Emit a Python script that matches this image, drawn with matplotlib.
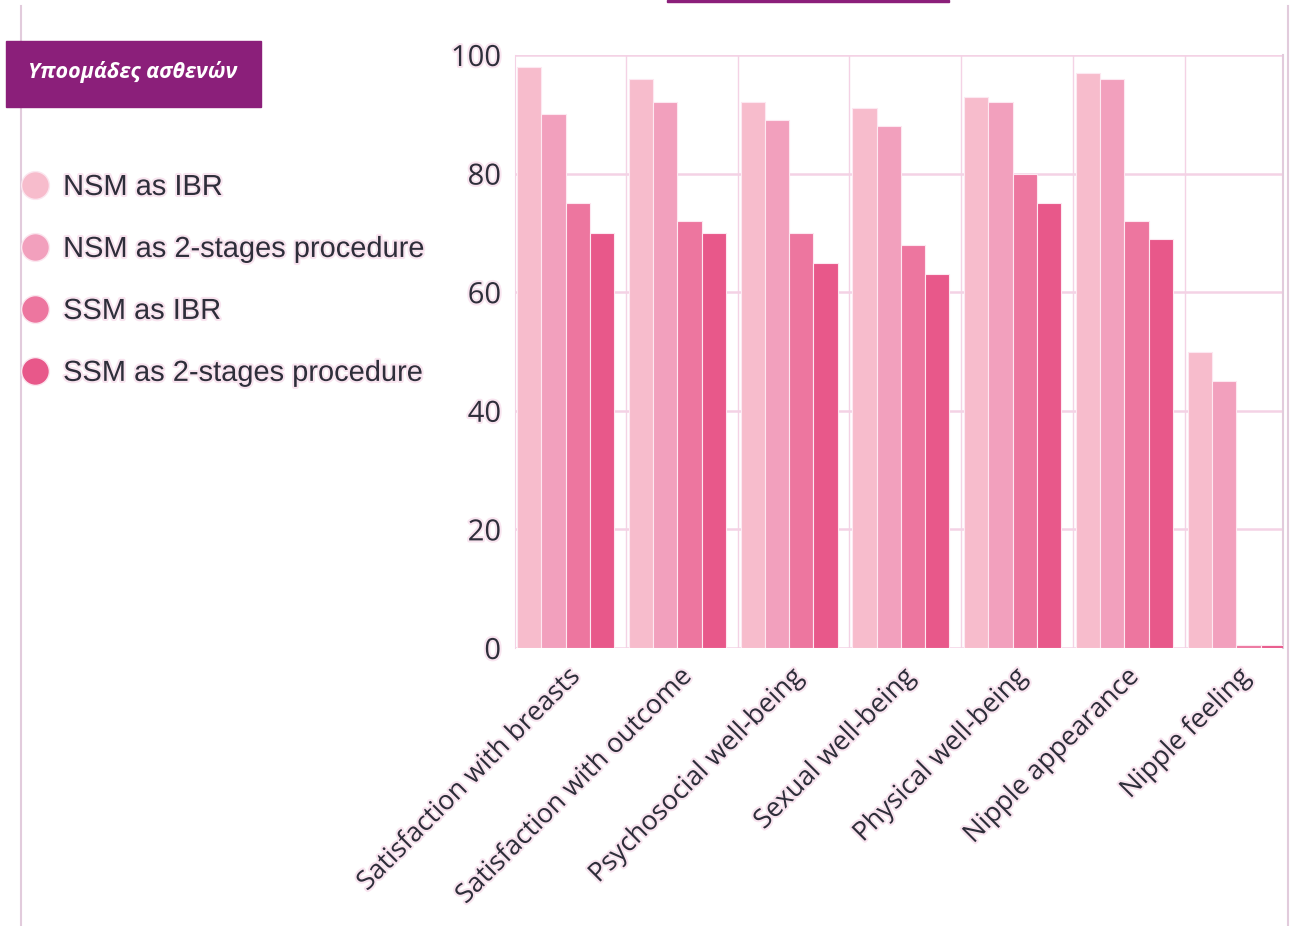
import numpy as np
import matplotlib
matplotlib.use("Agg")
import matplotlib.pyplot as plt
import matplotlib.patheffects as pe
from matplotlib.lines import Line2D
from matplotlib.patches import Rectangle

categories = ["Satisfaction with breasts", "Satisfaction with outcome",
              "Psychosocial well-being", "Sexual well-being",
              "Physical well-being", "Nipple appearance", "Nipple feeling"]
series_names = ["NSM as IBR", "NSM as 2-stages procedure",
                "SSM as IBR", "SSM as 2-stages procedure"]
nsm_ibr = [98, 96, 92, 91, 93, 97, 50]
nsm_2st = [90, 92, 89, 88, 92, 96, 45]
ssm_ibr = [75, 72, 70, 68, 80, 72, 0.5]
ssm_2st = [70, 70, 65, 63, 75, 69, 0.5]
yticks = [0, 20, 40, 60, 80, 100]

COLORS = ["#f7bccc", "#f2a0bd", "#ed769f", "#e8588a"]
PURPLE = "#8b1f7a"
GRID = "#f4d2e5"
FRAME = "#e2cbdc"
INK = "#2e2e3a"
halo = [pe.withStroke(linewidth=3, foreground="#f8e4ef")]

fig = plt.figure(figsize=(12.91, 9.26), dpi=100)
ax = fig.add_axes([515 / 1291, 1 - 648 / 926, (1283 - 515) / 1291, (648 - 55) / 926])

x = np.arange(len(categories))
w = 0.217
values = [nsm_ibr, nsm_2st, ssm_ibr, ssm_2st]
for k, (vals, col, name) in enumerate(zip(values, COLORS, series_names)):
    ax.bar(x + (k - 1.5) * w, vals, width=w, color=col, edgecolor="#fde8f1",
           linewidth=0.8, label=name, zorder=3)

ax.set_xlim(-0.452, 6.418)
ax.set_ylim(0, 100)
ax.set_yticks(yticks)
ax.grid(True, axis="y", color=GRID, linewidth=1.8, zorder=0)
for b in x[1:] - 0.5 + 0.04:
    ax.axvline(b, color=GRID, linewidth=1.0, zorder=1)
ax.set_axisbelow(True)
for s in ["top", "bottom"]:
    ax.spines[s].set_visible(False)
ax.spines["left"].set_color(GRID)
ax.spines["right"].set_color(FRAME)
ax.spines["right"].set_linewidth(1.5)
ax.tick_params(axis="y", length=0, pad=10)
ax.tick_params(axis="x", length=0, pad=11)
ax.set_xticks(x)
ax.set_xticklabels(categories, rotation=45, ha="right", rotation_mode="anchor",
                   fontsize=19.2, family="Open Sans", color=INK)
for t in ax.get_yticklabels():
    t.set_fontsize(21)
    t.set_family("Open Sans")
    t.set_color(INK)
for t in ax.get_xticklabels() + ax.get_yticklabels():
    t.set_path_effects(halo)

handles = [Line2D([], [], marker="o", linestyle="none", markersize=20,
                  markerfacecolor=c, markeredgecolor="#fbe6ef", markeredgewidth=1)
           for c in COLORS]
leg = fig.legend(handles, series_names, loc="upper left",
                 bbox_to_anchor=(21 / 1291, 1 - 173 / 926), frameon=False,
                 handlelength=0.95, handletextpad=0.5, labelspacing=1.17,
                 borderpad=0, borderaxespad=0,
                 prop={"family": "Liberation Sans", "size": 20.9})
for t in leg.get_texts():
    t.set_color(INK)
    t.set_path_effects(halo)

# header box and decorations
fig.add_artist(Rectangle((6 / 1291, 1 - 107 / 926), 255 / 1291, 66 / 926,
                         transform=fig.transFigure, color=PURPLE, zorder=5))
fig.text(133 / 1291, 1 - 72 / 926, "Υποομάδες ασθενών", color="white",
         fontsize=15.5, style="italic", weight="bold",
         family=["Open Sans", "DejaVu Sans"], ha="center", va="center", zorder=6)
fig.add_artist(Rectangle((667 / 1291, 1 - 2 / 926), 282 / 1291, 2 / 926,
                         transform=fig.transFigure, color=PURPLE, zorder=5))
fig.add_artist(Line2D([21 / 1291, 21 / 1291], [0, 1 - 6 / 926], color=FRAME,
                      linewidth=1.5, transform=fig.transFigure))
fig.add_artist(Line2D([1288 / 1291, 1288 / 1291], [0, 1 - 6 / 926], color=FRAME,
                      linewidth=1.5, transform=fig.transFigure))

fig.savefig("out.png", dpi=100)
